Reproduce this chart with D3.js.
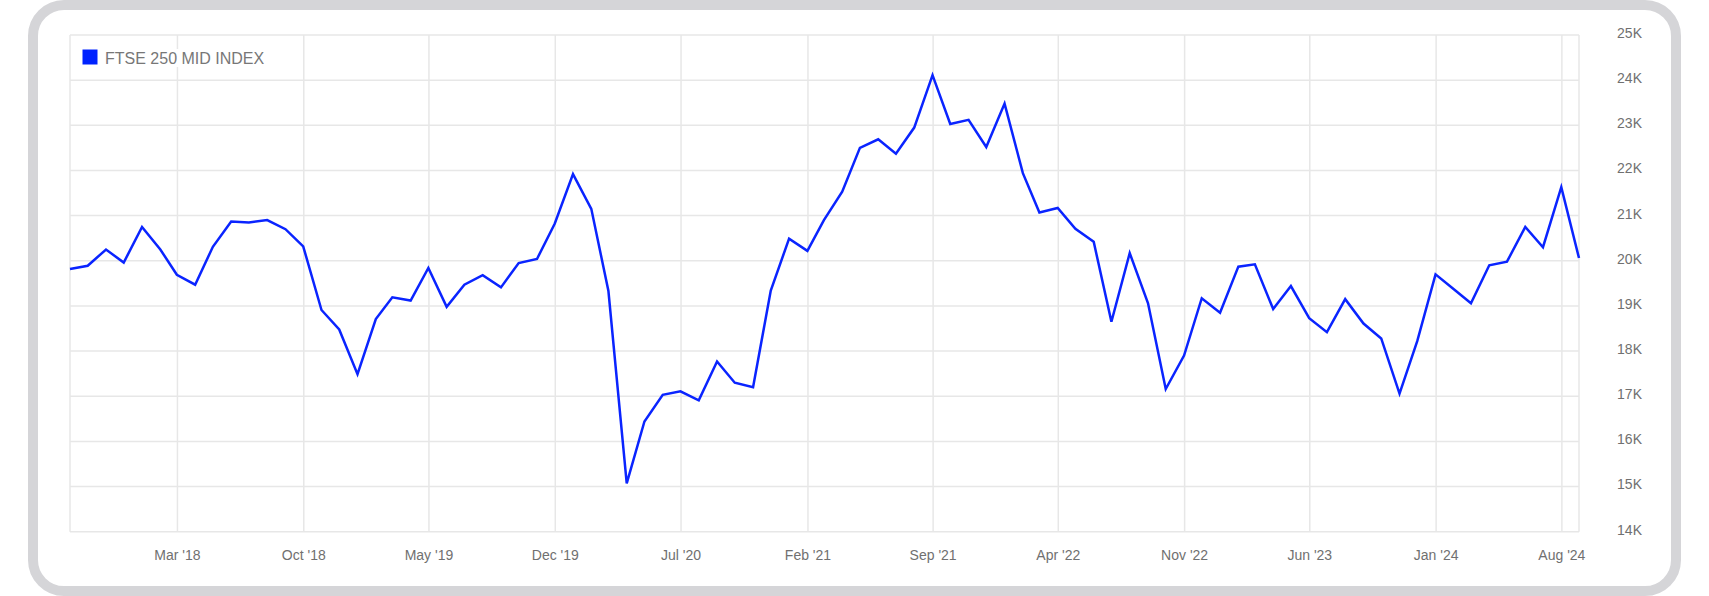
<!DOCTYPE html>
<html>
<head>
<meta charset="utf-8">
<script src="https://cdn.jsdelivr.net/npm/d3@7"></script>
<style>
html,body{margin:0;padding:0;background:#fff;}
svg{display:block;}
text{font-family:"Liberation Sans",Arial,Helvetica,sans-serif;}
</style>
</head>
<body>
<svg id="chart" width="1709" height="596"></svg>
<script>
const seriesName = "FTSE 250 MID INDEX";

const dates = [
  "2017-08-31","2017-09-30","2017-10-31","2017-11-30","2017-12-31",
  "2018-01-31","2018-02-28","2018-03-31","2018-04-30","2018-05-31","2018-06-30","2018-07-31","2018-08-31","2018-09-30","2018-10-31","2018-11-30","2018-12-31",
  "2019-01-31","2019-02-28","2019-03-31","2019-04-30","2019-05-31","2019-06-30","2019-07-31","2019-08-31","2019-09-30","2019-10-31","2019-11-30","2019-12-31",
  "2020-01-31","2020-02-29","2020-03-31","2020-04-30","2020-05-31","2020-06-30","2020-07-31","2020-08-31","2020-09-30","2020-10-31","2020-11-30","2020-12-31",
  "2021-01-31","2021-02-28","2021-03-31","2021-04-30","2021-05-31","2021-06-30","2021-07-31","2021-08-31","2021-09-30","2021-10-31","2021-11-30","2021-12-31",
  "2022-01-31","2022-02-28","2022-03-31","2022-04-30","2022-05-31","2022-06-30","2022-07-31","2022-08-31","2022-09-30","2022-10-31","2022-11-30","2022-12-31",
  "2023-01-31","2023-02-28","2023-03-31","2023-04-30","2023-05-31","2023-06-30","2023-07-31","2023-08-31","2023-09-30","2023-10-31","2023-11-30","2023-12-31",
  "2024-01-31","2024-02-29","2024-03-31","2024-04-30","2024-05-31","2024-06-30","2024-07-31","2024-08-30"
];

const values = [
  19820,19890,20250,19960,20750,
  20250,19690,19470,20310,20870,20850,20900,20700,20320,18910,18480,17490,
  18710,19190,19120,19840,18980,19470,19680,19410,19950,20040,20820,21920,
  21150,19330,15070,16440,17030,17110,16910,17770,17300,17200,19340,20490,
  20220,20900,21530,22500,22690,22370,22950,24110,23030,23120,22520,23480,
  21940,21070,21170,20710,20420,18650,20170,19060,17160,17900,19170,18850,
  19870,19920,18930,19440,18730,18420,19150,18610,18280,17060,18220,19700,
  19370,19060,19900,19980,20750,20300,21630,20060
];

const xTickDates = ["2018-03-01","2018-10-01","2019-05-01","2019-12-01","2020-07-01","2021-02-01",
                    "2021-09-01","2022-04-01","2022-11-01","2023-06-01","2024-01-01","2024-08-01"];
const xTickLabels = ["Mar '18","Oct '18","May '19","Dec '19","Jul '20","Feb '21",
                     "Sep '21","Apr '22","Nov '22","Jun '23","Jan '24","Aug '24"];

const yTicks = [14000,15000,16000,17000,18000,19000,20000,21000,22000,23000,24000,25000];
const yTickLabels = ["14K","15K","16K","17K","18K","19K","20K","21K","22K","23K","24K","25K"];

(function () {
const parse = d3.utcParse("%Y-%m-%d");
const data = dates.map((d, i) => ({date: parse(d), value: values[i]}));

const svg = d3.select("#chart");
const pLeft = 70, pRight = 1579, pTop = 35, pBottom = 531.7;

// card frame
svg.append("rect")
  .attr("x", 33).attr("y", 5).attr("width", 1643).attr("height", 586)
  .attr("rx", 31).attr("ry", 31)
  .attr("fill", "#fff").attr("stroke", "#d5d5d8").attr("stroke-width", 10);

const x = d3.scaleUtc()
  .domain([data[0].date, data[data.length - 1].date])
  .range([pLeft, pRight]);
const y = d3.scaleLinear()
  .domain([14000, 25000])
  .range([pBottom, pTop]);

const grid = svg.append("g").attr("stroke", "#e7e7e7").attr("stroke-width", 1.5).attr("fill", "none");

grid.selectAll("line.h").data(yTicks).join("line")
  .attr("class", "h")
  .attr("x1", pLeft).attr("x2", pRight)
  .attr("y1", d => y(d)).attr("y2", d => y(d));

const xTicks = xTickDates.map(parse);
grid.selectAll("line.v").data(xTicks).join("line")
  .attr("class", "v")
  .attr("x1", d => x(d)).attr("x2", d => x(d))
  .attr("y1", pTop).attr("y2", pBottom);
grid.append("line").attr("x1", pLeft).attr("x2", pLeft).attr("y1", pTop).attr("y2", pBottom);
grid.append("line").attr("x1", pRight).attr("x2", pRight).attr("y1", pTop).attr("y2", pBottom);

svg.append("g").selectAll("text").data(yTicks).join("text")
  .attr("x", 1642)
  .attr("y", d => y(d) - 2)
  .attr("dy", "0.35em")
  .attr("text-anchor", "end")
  .attr("font-size", 14)
  .attr("fill", "#707070")
  .text((d, i) => yTickLabels[i]);

svg.append("g").selectAll("text").data(xTicks).join("text")
  .attr("x", d => x(d))
  .attr("y", 559.5)
  .attr("text-anchor", "middle")
  .attr("font-size", 14)
  .attr("fill", "#707070")
  .text((d, i) => xTickLabels[i]);

const line = d3.line().x(d => x(d.date)).y(d => y(d.value));
svg.append("path")
  .datum(data)
  .attr("d", line)
  .attr("fill", "none")
  .attr("stroke", "#0a24ff")
  .attr("stroke-width", 2.5)
  .attr("stroke-linejoin", "miter")
  .attr("stroke-linecap", "butt");

const lg = svg.append("g");
lg.append("rect").attr("x", 103).attr("y", 49).attr("width", 162).attr("height", 18).attr("fill", "#fff");
lg.append("rect").attr("x", 82.5).attr("y", 49.5).attr("width", 15).attr("height", 15).attr("fill", "#0022ff");
lg.append("text").attr("x", 105).attr("y", 64).attr("font-size", 16).attr("fill", "#777").text(seriesName);
})();
</script>
</body>
</html>
